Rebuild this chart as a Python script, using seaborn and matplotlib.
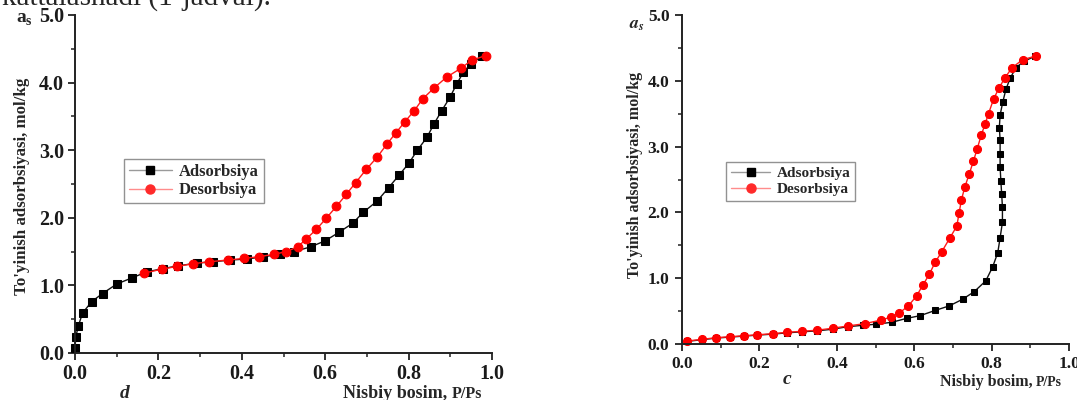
import matplotlib
matplotlib.use("Agg")
import matplotlib.pyplot as plt
from matplotlib.lines import Line2D
from matplotlib.ticker import MultipleLocator
import pandas as pd
import seaborn as sns

# Panel d: adsorption / desorption isotherm
d_ads_p = [0.0, 0.002, 0.008, 0.018, 0.04, 0.066, 0.10, 0.136, 0.172, 0.212,
           0.248, 0.292, 0.332, 0.372, 0.412, 0.452, 0.492, 0.525, 0.565, 0.600,
           0.633, 0.666, 0.691, 0.725, 0.752, 0.777, 0.801, 0.821, 0.844, 0.861,
           0.879, 0.899, 0.915, 0.931, 0.949, 0.975]
d_ads_a = [0.07, 0.24, 0.40, 0.59, 0.76, 0.88, 1.02, 1.11, 1.20, 1.25,
           1.29, 1.33, 1.35, 1.375, 1.39, 1.425, 1.46, 1.50, 1.57, 1.66,
           1.785, 1.92, 2.08, 2.25, 2.445, 2.63, 2.81, 3.0, 3.19, 3.39,
           3.58, 3.78, 3.975, 4.15, 4.275, 4.39]
d_des_p = [0.165, 0.208, 0.244, 0.282, 0.322, 0.366, 0.406, 0.442, 0.477, 0.507,
           0.534, 0.555, 0.579, 0.602, 0.627, 0.651, 0.673, 0.699, 0.725, 0.748,
           0.770, 0.791, 0.813, 0.834, 0.861, 0.891, 0.925, 0.951, 0.985]
d_des_a = [1.18, 1.24, 1.28, 1.32, 1.35, 1.375, 1.40, 1.425, 1.46, 1.50,
           1.57, 1.69, 1.83, 1.99, 2.17, 2.35, 2.52, 2.72, 2.90, 3.09,
           3.26, 3.42, 3.58, 3.76, 3.92, 4.08, 4.21, 4.33, 4.40]

# Panel c: adsorption / desorption isotherm
c_ads_p = [0.014, 0.051, 0.088, 0.124, 0.160, 0.195, 0.234, 0.272, 0.309, 0.350,
           0.389, 0.428, 0.467, 0.501, 0.542, 0.581, 0.615, 0.654, 0.691, 0.725,
           0.755, 0.785, 0.803, 0.816, 0.822, 0.828, 0.828, 0.826, 0.824, 0.822,
           0.822, 0.822, 0.820, 0.822, 0.829, 0.837, 0.848, 0.863, 0.884, 0.912]
c_ads_a = [0.04, 0.065, 0.09, 0.105, 0.12, 0.135, 0.15, 0.17, 0.185, 0.2,
           0.225, 0.263, 0.284, 0.30, 0.33, 0.39, 0.43, 0.51, 0.58, 0.68,
           0.795, 0.96, 1.175, 1.39, 1.615, 1.85, 2.08, 2.28, 2.47, 2.69,
           2.89, 3.10, 3.29, 3.48, 3.68, 3.87, 4.04, 4.20, 4.30, 4.37]
c_des_p = [0.014, 0.051, 0.088, 0.124, 0.160, 0.195, 0.234, 0.272, 0.309, 0.350,
           0.389, 0.430, 0.473, 0.513, 0.540, 0.562, 0.585, 0.606, 0.622, 0.639,
           0.654, 0.671, 0.692, 0.710, 0.716, 0.722, 0.731, 0.742, 0.753, 0.763,
           0.773, 0.783, 0.792, 0.805, 0.819, 0.835, 0.853, 0.880, 0.916]
c_des_a = [0.046, 0.07, 0.096, 0.11, 0.126, 0.14, 0.157, 0.178, 0.193, 0.21,
           0.24, 0.275, 0.31, 0.362, 0.41, 0.473, 0.58, 0.73, 0.89, 1.06,
           1.24, 1.40, 1.61, 1.79, 1.99, 2.19, 2.39, 2.58, 2.78, 2.97,
           3.17, 3.34, 3.50, 3.72, 3.89, 4.05, 4.20, 4.32, 4.38]

x_ticks = [0.0, 0.2, 0.4, 0.6, 0.8, 1.0]
y_ticks = [0.0, 1.0, 2.0, 3.0, 4.0, 5.0]
series_names = ["Adsorbsiya", "Desorbsiya"]
y_label = "To'yinish adsorbsiyasi, mol/kg"

sns.set_style("ticks")
plt.rcParams["font.family"] = ["Liberation Serif", "DejaVu Serif"]
plt.rcParams["font.weight"] = "bold"
plt.rcParams["axes.linewidth"] = 1.4
plt.rcParams["axes.edgecolor"] = "#222222"

fig = plt.figure(figsize=(10.77, 4.0), dpi=100)
ax_d = fig.add_axes([75 / 1077, 1 - 353 / 400, 417 / 1077, 338 / 400])
ax_c = fig.add_axes([682 / 1077, 1 - 344 / 400, 387 / 1077, 329 / 400])

# running paragraph text above the figure, cut at the top edge
fig.text(0.002, 1 - 5 / 400, "kattalashadi (1-jadval).", fontsize=21,
         fontweight="normal", va="baseline", ha="left")


def draw_panel(ax, ads_p, ads_a, des_p, des_a, msize, tick_fs, pad):
    ads = pd.DataFrame({"p": ads_p, "a": ads_a})
    des = pd.DataFrame({"p": des_p, "a": des_a})
    sns.lineplot(data=ads, x="p", y="a", ax=ax, sort=False, estimator=None,
                 color="#111111", linewidth=1.0, marker="s", markersize=msize,
                 markeredgecolor="black", markerfacecolor="black", clip_on=False)
    sns.lineplot(data=des, x="p", y="a", ax=ax, sort=False, estimator=None,
                 color="#ff1a1a", linewidth=1.0, marker="o", markersize=msize + 0.8,
                 markeredgecolor="#ff0000", markerfacecolor="#ff0000", clip_on=False)
    ax.set_xlim(0, 1.0)
    ax.set_ylim(0, 5.0)
    ax.set_xticks(x_ticks)
    ax.set_yticks(y_ticks)
    ax.set_xticklabels([f"{t:.1f}" for t in x_ticks])
    ax.set_yticklabels([f"{t:.1f}" for t in y_ticks])
    ax.xaxis.set_minor_locator(MultipleLocator(0.1))
    ax.yaxis.set_minor_locator(MultipleLocator(0.5))
    ax.tick_params(which="major", direction="out", length=5, width=1.3,
                   labelsize=tick_fs, pad=pad, colors="#222222", labelcolor="#1a1a1a")
    ax.tick_params(which="minor", direction="out", length=3, width=1.1, colors="#222222")
    for lab in ax.get_xticklabels() + ax.get_yticklabels():
        lab.set_fontweight("bold")
    ax.set_xlabel("")
    ax.set_ylabel("")
    sns.despine(ax=ax)


draw_panel(ax_d, d_ads_p, d_ads_a, d_des_p, d_des_a, msize=5.5, tick_fs=14.5, pad=3)
draw_panel(ax_c, c_ads_p, c_ads_a, c_des_p, c_des_a, msize=5.0, tick_fs=12.5, pad=4)

handles = [
    Line2D([], [], color="#9a9a9a", linewidth=1.0, marker="s", markersize=6,
           markerfacecolor="black", markeredgecolor="black"),
    Line2D([], [], color="#ff8c8c", linewidth=1.0, marker="o", markersize=6.5,
           markerfacecolor="#ff2a2a", markeredgecolor="#ff2a2a"),
]
for ax, anchor, fs in [(ax_d, (0.117, 0.574), 12), (ax_c, (0.114, 0.553), 11)]:
    leg = ax.legend(handles, series_names, loc="upper left", bbox_to_anchor=anchor,
                    frameon=True, fancybox=False, borderpad=0.3, labelspacing=0.15,
                    handlelength=2.6, handletextpad=0.4, borderaxespad=0,
                    prop={"family": "Liberation Serif", "weight": "bold", "size": fs})
    leg.get_frame().set_edgecolor("#777777")
    leg.get_frame().set_linewidth(1.0)

# axis titles, panel letters and quantity symbols
fig.text(22 / 1077, 1 - 186 / 400, y_label, rotation=90, ha="center", va="center",
         fontsize=12.2, fontweight="bold")
fig.text(635 / 1077, 1 - 175 / 400, y_label, rotation=90, ha="center", va="center",
         fontsize=11.5, fontweight="bold")

fig.text(16 / 1077, 1 - 20 / 400, r"a$_\mathregular{s}$", ha="left", va="center",
         fontsize=14, fontweight="bold")
fig.text(629 / 1077, 1 - 24 / 400, r"$a_s$", ha="left", va="center",
         fontsize=13, fontweight="bold",
         math_fontfamily="stix")

fig.text(125 / 1077, 1 - 393 / 400, "d", ha="center", va="center",
         fontsize=14, fontweight="bold", style="italic")
fig.text(787 / 1077, 1 - 379 / 400, "c", ha="center", va="center",
         fontsize=14, fontweight="bold", style="italic")

fig.text(343 / 1077, 1 - 394 / 400, "Nisbiy bosim,", ha="left", va="center",
         fontsize=13, fontweight="bold")
fig.text(452 / 1077, 1 - 394 / 400, "P/Ps", ha="left", va="center",
         fontsize=11.5, fontweight="bold")
fig.text(940 / 1077, 1 - 382 / 400, "Nisbiy bosim,", ha="left", va="center",
         fontsize=11.5, fontweight="bold")
fig.text(1036 / 1077, 1 - 382 / 400, "P/Ps", ha="left", va="center",
         fontsize=10, fontweight="bold")

fig.savefig("out.png", dpi=100)
